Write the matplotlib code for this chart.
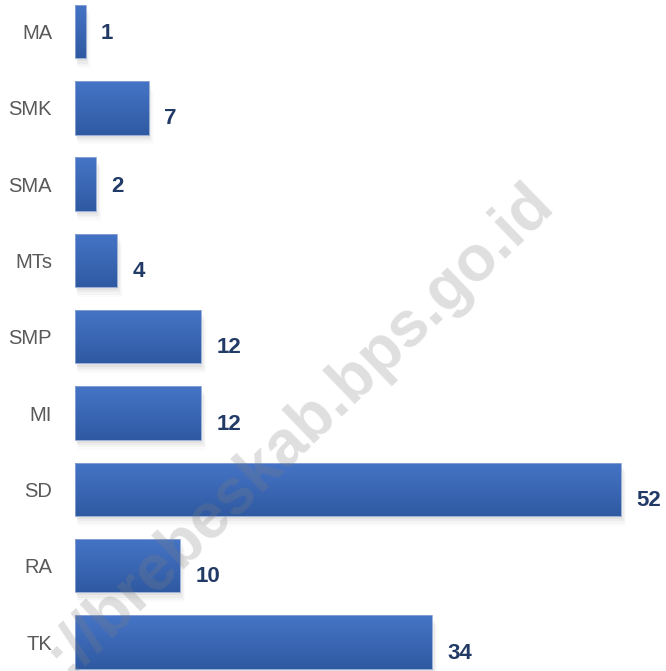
import numpy as np
import matplotlib
matplotlib.use("Agg")
import matplotlib.pyplot as plt
from matplotlib.patches import Rectangle
from matplotlib.colors import LinearSegmentedColormap

categories = ["MA", "SMK", "SMA", "MTs", "SMP", "MI", "SD", "RA", "TK"]
values = [1, 7, 2, 4, 12, 12, 52, 10, 34]
watermark = "://brebeskab.bps.go.id"

plt.rcParams['font.family'] = ['Liberation Sans', 'DejaVu Sans']

W, H = 666, 671
fig = plt.figure(figsize=(W / 100, H / 100), dpi=100)
fig.patch.set_facecolor('white')

ax_left = 75 / W
ax = fig.add_axes([ax_left, 0, 1 - ax_left, 1])
ax.set_facecolor('none')
n = len(categories)
pos = np.arange(n)
for s in ax.spines.values():
    s.set_visible(False)
ax.set_xticks([])
ax.set_yticks(pos)
ax.set_yticklabels(categories, fontsize=14.5, color='#595959')
ax.tick_params(axis='y', length=0, pad=16.5)

bar_h = 0.70
cmap = LinearSegmentedColormap.from_list('g', ['#4674c6', '#2f5aa2'])
grad = np.linspace(0, 1, 64).reshape(-1, 1)

for i, v in enumerate(values):
    y0 = i - bar_h / 2
    # soft shadow
    for dx, dy, a in [(0.15, 0.04, 0.045), (0.3, 0.07, 0.035), (0.45, 0.10, 0.025), (0.6, 0.13, 0.015)]:
        ax.add_patch(Rectangle((dx * 0.5, y0 + dy), v + dx * 0.3, bar_h, facecolor='black',
                               edgecolor='none', alpha=a, zorder=1))
    rect = Rectangle((0, y0), v, bar_h, facecolor='none', edgecolor='#8fa6d3', linewidth=0.6, zorder=3)
    ax.add_patch(rect)
    im = ax.imshow(grad, extent=(0, v, y0 + bar_h, y0), aspect='auto', cmap=cmap,
                   origin='upper', zorder=2, interpolation='bilinear')
    clip = Rectangle((0, y0), v, bar_h, transform=ax.transData)
    im.set_clip_path(clip)
    dy_px = 2 if v <= 2 else 11
    ax.annotate(str(v), xy=(v, i), xytext=(11, -dy_px * 0.72), textcoords='offset points',
                ha='left', va='center', fontsize=16, fontweight='bold', color='#223a66', zorder=5)

ax.set_xlim(0, (W - 75) / 10.5)
ax.set_ylim(n - 1 + 0.38, -0.413)

fig.text(300 / W, 1 - 428 / H, watermark, rotation=44, rotation_mode='anchor',
         ha='center', va='center', fontsize=46, fontweight='bold', color='#7f7f7f', alpha=0.25, zorder=10)

fig.savefig('out.png', dpi=100, facecolor='white')
